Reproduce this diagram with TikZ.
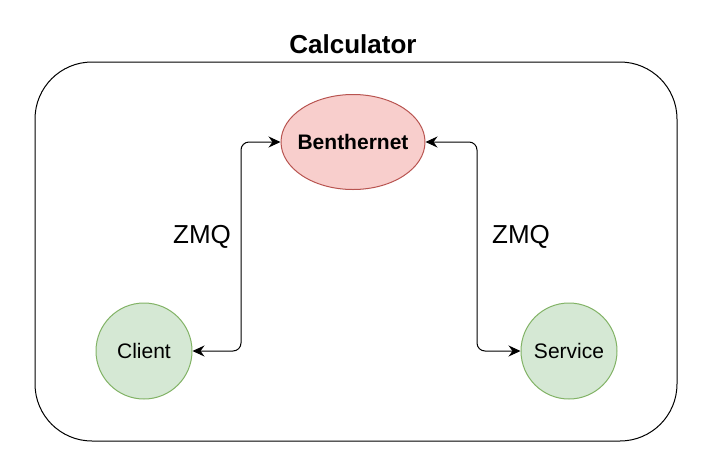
\documentclass[tikz,border=0pt]{standalone}
\usepackage{fontspec}
\setmainfont{Liberation Sans}
\usetikzlibrary{shapes.geometric,arrows.meta}
\definecolor{redfill}{HTML}{F8CECC}
\definecolor{redline}{HTML}{B85450}
\definecolor{greenfill}{HTML}{D5E8D4}
\definecolor{greenline}{HTML}{82B366}
\tikzset{
  container/.style={draw=black, line width=1pt, rounded corners=57pt},
  hub/.style={ellipse, draw=redline, fill=redfill, line width=1pt, minimum width=144pt, minimum height=95pt, inner xsep=-6pt, inner ysep=0pt, font=\fontsize{21}{25}\selectfont\bfseries},
  peer/.style={circle, draw=greenline, fill=greenfill, line width=1pt, minimum size=96pt, inner sep=0pt, font=\fontsize{21}{25}\selectfont},
  link/.style={draw=black, line width=1pt, rounded corners=8pt, {Stealth[length=12pt,width=11pt,inset=4pt]}-{Stealth[length=12pt,width=11pt,inset=4pt]}},
  lbl/.style={font=\fontsize{26}{30}\selectfont, inner sep=0pt},
  title/.style={font=\fontsize{26}{30}\selectfont\bfseries, inner sep=0pt}
}
\begin{document}
\begin{tikzpicture}[x=1pt,y=-1pt]
\useasboundingbox (0,0) rectangle (714,472);
\draw[container] (35,62) rectangle (677,441);
\node[title] (title) at (353,44) {Calculator};
\node[hub] (bn) at (353,142) {Benthernet};
\node[peer] (client) at (144,351) {Client};
\node[peer] (service) at (569,351) {Service};
\coordinate (lc) at (241,0);
\coordinate (rc) at (477,0);
\draw[link] (client.east) -- (lc |- client.east) -- (lc |- bn.west) -- (bn.west);
\draw[link] (bn.east) -- (rc |- bn.east) -- (rc |- service.west) -- (service.west);
\node[lbl] (zl) at (202,237) {ZMQ};
\node[lbl] (zr) at (521,237) {ZMQ};
\end{tikzpicture}
\end{document}
